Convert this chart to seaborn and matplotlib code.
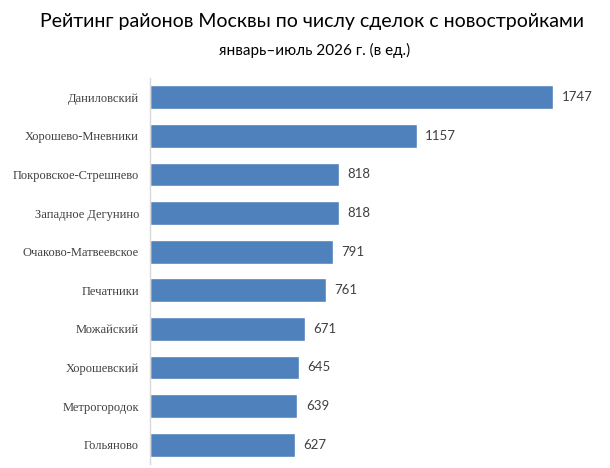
import matplotlib
matplotlib.use("Agg")
import matplotlib.pyplot as plt
import seaborn as sns
import pandas as pd

districts = ["Даниловский", "Хорошево-Мневники", "Покровское-Стрешнево", "Западное Дегунино",
             "Очаково-Матвеевское", "Печатники", "Можайский", "Хорошевский", "Метрогородок", "Гольяново"]
deals = [1747, 1157, 818, 818, 791, 761, 671, 645, 639, 627]

title = "Рейтинг районов Москвы по числу сделок с новостройками"
subtitle = "январь–июль 2026 г. (в ед.)"

sns.set_theme(style="white")
plt.rcParams['font.family'] = ['Lato', 'DejaVu Sans']

df = pd.DataFrame({"district": districts, "deals": deals})

fig = plt.figure(figsize=(6.1, 4.68), dpi=100)
ax = fig.add_axes([150/610, 1-464/468, 450/610, 386/468])
sns.barplot(data=df, x="deals", y="district", color="#4F81BD", width=0.62, ax=ax, saturation=1)
ax.set_xlim(0, 1950)
ax.set_ylim(9.5, -0.5)
ax.set_xlabel("")
ax.set_ylabel("")
ax.set_xticks([])
for s in ["top", "right", "bottom"]:
    ax.spines[s].set_visible(False)
ax.spines["left"].set_color("#D9D9D9")
ax.spines["left"].set_linewidth(1)
ax.tick_params(axis="y", length=0, pad=8)
for lab in ax.get_yticklabels():
    lab.set_fontfamily(["Liberation Serif"])
    lab.set_fontsize(9)
    lab.set_color("#404040")
for c in ax.containers:
    ax.bar_label(c, labels=[str(v) for v in deals], padding=6, fontsize=9.5, color="#404040")

fig.text(0.512, 1-22/468, title, ha="center", va="center", fontsize=14, color="#000000")
fig.text(0.516, 1-50/468, subtitle, ha="center", va="center", fontsize=11, color="#000000")

fig.savefig("out.png", dpi=100)
